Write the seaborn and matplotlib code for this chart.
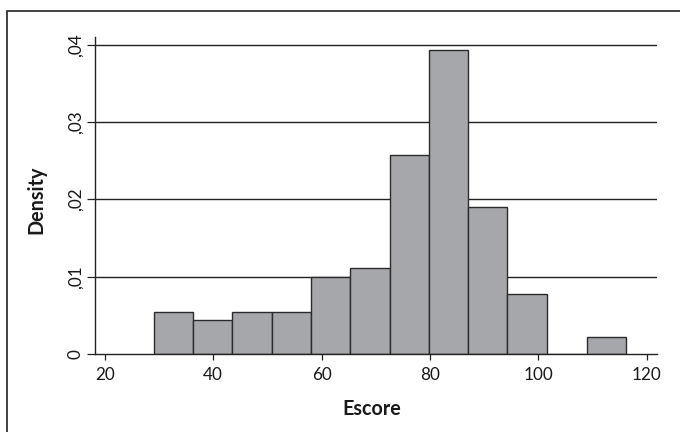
import numpy as np
import pandas as pd
import matplotlib
matplotlib.use("Agg")
import matplotlib.pyplot as plt
import seaborn as sns
from matplotlib.patches import Rectangle

# histogram: bin edges and density per bin
bin_edges = [29.0, 36.3, 43.5, 50.8, 58.0, 65.3, 72.6, 79.8, 87.1, 94.3, 101.6, 108.9, 116.1]
density = [0.0055, 0.0044, 0.0055, 0.0055, 0.0100, 0.0112, 0.0258, 0.0393, 0.0190, 0.0078, 0.0, 0.0022]
x_ticks = [20, 40, 60, 80, 100, 120]
y_ticks = [0, 0.01, 0.02, 0.03, 0.04]
y_tick_labels = ["0", ",01", ",02", ",03", ",04"]

sns.set_style("white")
plt.rcParams["font.family"] = ["Lato", "DejaVu Sans"]

edges = np.array(bin_edges)
df = pd.DataFrame({"Escore": (edges[:-1] + edges[1:]) / 2, "w": density})

fig = plt.figure(figsize=(6.8, 4.32), dpi=100)
ax = fig.add_axes([95 / 680, 1 - 354.3 / 432, (657 - 95) / 680, (354.3 - 36.7) / 432])

# gridlines behind the bars
for yv in y_ticks[1:]:
    ax.axhline(yv, color="#222222", lw=1.0, zorder=0)

sns.histplot(data=df, x="Escore", weights="w", bins=bin_edges, stat="count",
             color="#a6a7ab", edgecolor="#2b2b2b", linewidth=1.0, alpha=1.0, ax=ax, zorder=2)

ax.set_xlim(18.2, 121.9)
ax.set_ylim(0, 0.04103)
ax.set_xticks(x_ticks)
ax.set_xticklabels([str(t) for t in x_ticks])
ax.set_yticks(y_ticks)
ax.set_yticklabels(y_tick_labels, rotation=90, va="center")

for s in ["top", "right"]:
    ax.spines[s].set_visible(False)
for s in ["left", "bottom"]:
    ax.spines[s].set_color("#222222")
    ax.spines[s].set_linewidth(1.0)

ax.tick_params(axis="x", length=4.3, width=0.9, color="#222222", pad=4.5,
               labelsize=12.3, labelcolor="#1a1a1a", bottom=True)
ax.tick_params(axis="y", length=5.8, width=0.9, color="#222222", pad=2.5,
               labelsize=12.3, labelcolor="#1a1a1a", left=True)

ax.set_xlabel("Escore", fontsize=14.2, fontweight="bold", color="#1a1a1a")
ax.set_ylabel("Density", fontsize=14.2, fontweight="bold", color="#1a1a1a")
ax.xaxis.label.set_va("center")
ax.yaxis.label.set_va("center")
ax.xaxis.set_label_coords(0.492, -0.172)
ax.yaxis.set_label_coords(-0.1037, 0.486)

# outer frame of the graph region, cut off at the right and bottom
fig.patches.append(Rectangle((7 / 680, -0.1), 1.2, 0.1 + 421 / 432, transform=fig.transFigure,
                             fill=False, edgecolor="#333333", lw=1.3))

fig.savefig("out.png", dpi=100)
